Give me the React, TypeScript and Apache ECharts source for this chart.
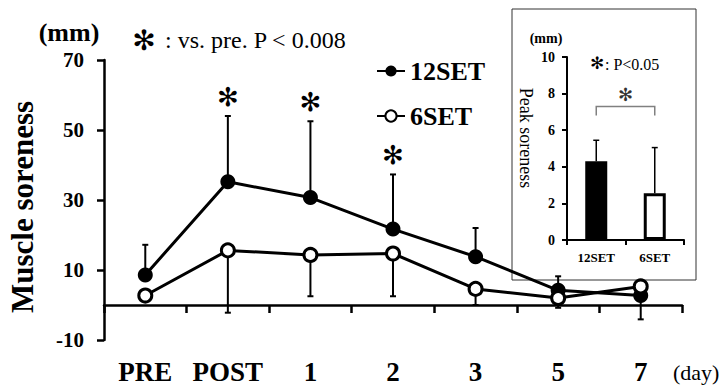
import React, { useEffect, useRef } from 'react';
import * as echarts from 'echarts';

const days = ['PRE', 'POST', '1', '2', '3', '5', '7'];
const set12Mean = [8.6, 35.2, 30.7, 21.7, 13.8, 4.2, 2.7];
const set12Upper = [17.2, 54.0, 52.5, 37.3, 22.0, 8.2, 2.7];
const set6Mean = [2.7, 15.6, 14.3, 14.7, 4.6, 2.0, 5.3];
const set6Lower = [2.7, -2.2, 2.5, 2.5, 0.0, -0.8, -4.1];
const sigFlags = [0, 1, 1, 1, 0, 0, 0];
const yTicks = [-10, 10, 30, 50, 70];

const peakGroups = ['12SET', '6SET'];
const peakMean = [4.3, 2.55];
const peakUpper = [5.45, 5.05];
const bracketTop = [7.3];
const bracketFoot = [6.8];

const SERIF = 'Liberation Serif';
const STAR = '✻';
const STARFONT = 'DejaVu Sans';

export default function App() {
  const ref = useRef<HTMLDivElement>(null);
  useEffect(() => {
    if (!ref.current) return;
    const chart = echarts.init(ref.current, null, { renderer: 'svg' });

    const errRender = (lw: number, cap: number, starGap: number, starSize: number) =>
      (params: any, api: any) => {
        const x = api.value(0);
        const m = api.value(1);
        const e = api.value(2);
        const p0 = api.coord([x, m]);
        const p1 = api.coord([x, e]);
        const children: any[] = [];
        if (Math.abs(p1[1] - p0[1]) > 0.5) {
          children.push({ type: 'line', shape: { x1: p0[0], y1: p0[1], x2: p1[0], y2: p1[1] }, style: { stroke: '#000', lineWidth: lw } });
          children.push({ type: 'line', shape: { x1: p0[0] - cap, y1: p1[1], x2: p0[0] + cap, y2: p1[1] }, style: { stroke: '#000', lineWidth: lw } });
        }
        if (api.value(3)) {
          children.push({ type: 'text', x: p1[0], y: p1[1] - starGap, style: { text: STAR, fontFamily: STARFONT, fontSize: starSize, fill: '#000', align: 'center', verticalAlign: 'middle' } });
        }
        return { type: 'group', children };
      };

    const option: any = {
      animation: false,
      backgroundColor: '#fff',
      grid: [
        { left: 104, top: 60, width: 578, height: 312 },
        { left: 567, top: 57, width: 117, height: 183 },
      ],
      legend: {
        data: ['12SET', '6SET'],
        orient: 'vertical',
        left: 371,
        top: 53,
        itemWidth: 28,
        itemHeight: 14,
        itemGap: 19,
        textStyle: { fontFamily: SERIF, fontWeight: 'bold', fontSize: 26, color: '#000' },
      },
      xAxis: [
        {
          type: 'category', gridIndex: 0, data: days, boundaryGap: true,
          axisLine: { onZero: true, lineStyle: { color: '#000', width: 2.5 } },
          axisTick: { show: true, inside: false, length: 8, alignWithLabel: false, interval: 0, lineStyle: { color: '#000', width: 2.5 } },
          axisLabel: { interval: 0, fontFamily: SERIF, fontWeight: 'bold', fontSize: 27, color: '#000', margin: 18 },
          splitLine: { show: false },
        },
        {
          type: 'category', gridIndex: 1, data: peakGroups, boundaryGap: true,
          axisLine: { lineStyle: { color: '#000', width: 2 } },
          axisTick: { show: true, length: 5, interval: 0, lineStyle: { color: '#000', width: 2 } },
          axisLabel: { interval: 0, fontFamily: SERIF, fontWeight: 'bold', fontSize: 13, color: '#000', margin: 11 },
          splitLine: { show: false },
        },
      ],
      yAxis: [
        {
          type: 'value', gridIndex: 0, min: -10, max: 70,
          splitLine: { show: false },
          axisLine: { show: true, lineStyle: { color: '#000', width: 2.5 } },
          axisTick: { show: true, inside: false, length: 7, customValues: yTicks, lineStyle: { color: '#000', width: 2.5 } },
          axisLabel: { customValues: yTicks, fontFamily: SERIF, fontWeight: 'bold', fontSize: 21, color: '#000', margin: 20 },
        },
        {
          type: 'value', gridIndex: 1, min: 0, max: 10, interval: 2,
          splitLine: { show: false },
          axisLine: { show: true, lineStyle: { color: '#000', width: 2 } },
          axisTick: { show: true, inside: false, length: 5, lineStyle: { color: '#000', width: 2 } },
          axisLabel: { fontFamily: SERIF, fontWeight: 'bold', fontSize: 14, color: '#000', margin: 12 },
        },
      ],
      series: [
        {
          type: 'custom', xAxisIndex: 0, yAxisIndex: 0, z: 2,
          data: days.map((d, i) => [i, set12Mean[i], set12Upper[i], sigFlags[i]]),
          renderItem: errRender(2, 3, 19, 26),
        },
        {
          type: 'custom', xAxisIndex: 0, yAxisIndex: 0, z: 2,
          data: days.map((d, i) => [i, set6Mean[i], set6Lower[i], 0]),
          renderItem: errRender(2, 3, 0, 0),
        },
        {
          name: '12SET', type: 'line', xAxisIndex: 0, yAxisIndex: 0, z: 4,
          data: set12Mean,
          symbol: 'circle', symbolSize: 15,
          itemStyle: { color: '#000' },
          lineStyle: { color: '#000', width: 3 },
        },
        {
          name: '6SET', type: 'line', xAxisIndex: 0, yAxisIndex: 0, z: 5,
          data: set6Mean,
          symbol: 'circle', symbolSize: 13,
          itemStyle: { color: '#fff', borderColor: '#000', borderWidth: 3 },
          lineStyle: { color: '#000', width: 3 },
        },
        {
          type: 'bar', xAxisIndex: 1, yAxisIndex: 1, barWidth: 22, z: 3,
          data: peakMean.map((v, i) => ({
            value: v,
            itemStyle: i === 0
              ? { color: '#000', borderColor: '#000', borderWidth: 2 }
              : { color: '#fff', borderColor: '#000', borderWidth: 3 },
          })),
        },
        {
          type: 'custom', xAxisIndex: 1, yAxisIndex: 1, z: 2,
          data: peakGroups.map((g, i) => [i, peakMean[i], peakUpper[i], 0]),
          renderItem: errRender(1.5, 3, 0, 0),
        },
        {
          type: 'custom', xAxisIndex: 1, yAxisIndex: 1, z: 2,
          data: bracketTop.map((t, i) => [0, 1, t, bracketFoot[i]]),
          renderItem: (params: any, api: any) => {
            const a = api.coord([api.value(0), api.value(3)]);
            const b = api.coord([api.value(0), api.value(2)]);
            const c = api.coord([api.value(1), api.value(2)]);
            const d = api.coord([api.value(1), api.value(3)]);
            return {
              type: 'group',
              children: [
                { type: 'polyline', shape: { points: [a, b, c, d] }, style: { stroke: '#808080', lineWidth: 1.5, fill: 'none' } },
                { type: 'text', x: (b[0] + c[0]) / 2, y: b[1] - 12, style: { text: STAR, fontFamily: STARFONT, fontSize: 18, fill: '#333', align: 'center', verticalAlign: 'middle' } },
              ],
            };
          },
        },
      ],
      graphic: [
        { type: 'text', x: 69, y: 32, style: { text: '(mm)', fontFamily: SERIF, fontWeight: 'bold', fontSize: 26, fill: '#000', align: 'center', verticalAlign: 'middle' } },
        { type: 'text', x: 144, y: 40, style: { text: STAR, fontFamily: STARFONT, fontSize: 28, fontWeight: 'bold', fill: '#000', align: 'center', verticalAlign: 'middle' } },
        { type: 'text', x: 165, y: 40, style: { text: ': vs. pre. P < 0.008', fontFamily: SERIF, fontSize: 24, fill: '#000', align: 'left', verticalAlign: 'middle' } },
        { type: 'text', x: 673, y: 372, style: { text: '(day)', fontFamily: SERIF, fontSize: 22, fill: '#000', align: 'left', verticalAlign: 'middle' } },
        { type: 'text', x: 22, y: 207, rotation: Math.PI / 2, style: { text: 'Muscle soreness', fontFamily: SERIF, fontWeight: 'bold', fontSize: 31, fill: '#000', align: 'center', verticalAlign: 'middle' } },
        { type: 'rect', shape: { x: 512, y: 9, width: 184, height: 271 }, style: { stroke: '#333', lineWidth: 1, fill: 'none' }, z: 0 },
        { type: 'text', x: 546, y: 38, style: { text: '(mm)', fontFamily: SERIF, fontWeight: 'bold', fontSize: 14, fill: '#000', align: 'center', verticalAlign: 'middle' } },
        { type: 'text', x: 597, y: 63, style: { text: STAR, fontFamily: STARFONT, fontSize: 17, fill: '#000', align: 'center', verticalAlign: 'middle' } },
        { type: 'text', x: 605, y: 64, style: { text: ': P<0.05', fontFamily: SERIF, fontSize: 16, fill: '#000', align: 'left', verticalAlign: 'middle' } },
        { type: 'text', x: 526, y: 138, rotation: -Math.PI / 2, style: { text: 'Peak soreness', fontFamily: SERIF, fontSize: 18, fill: '#000', align: 'center', verticalAlign: 'middle' } },
      ],
    };
    chart.setOption(option);
    return () => chart.dispose();
  }, []);
  return <div ref={ref} style={{ position: 'absolute', left: 0, top: 0, width: 725, height: 385 }} />;
}
